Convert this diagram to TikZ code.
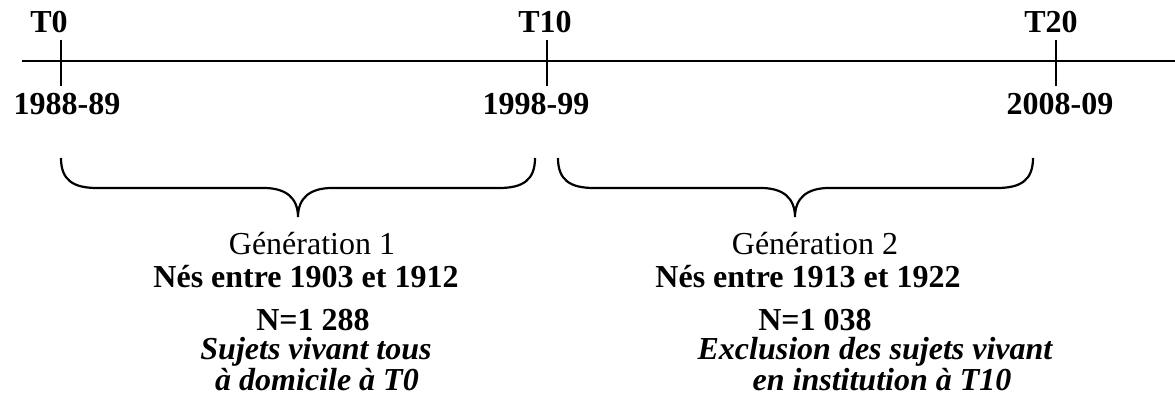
\documentclass[tikz,border=0pt]{standalone}
\usepackage{fontspec}
\setmainfont{Liberation Serif}
\newcommand{\bfont}{\fontsize{16}{19}\selectfont}
\begin{document}
\begin{tikzpicture}[x=0.5pt,y=-0.5pt,
  every node/.style={inner sep=0pt, outer sep=0pt, anchor=base},
  reg/.style={font=\bfont},
  lbl/.style={font=\bfont\bfseries},
  note/.style={font=\bfont\bfseries\itshape},
  axis/.style={line width=1.4pt},
  tick/.style={line width=1.1pt},
  brace/.style={line width=1.1pt}]
\useasboundingbox (0,0) rectangle (1175,401);

% axis
\coordinate (L) at (22,61);
\coordinate (R) at (1175,61);
\draw[axis] (L) -- (R);

% ticks
\coordinate (t0a) at (61,40);   \coordinate (t0b) at (61,86);
\coordinate (t1a) at (547,40);  \coordinate (t1b) at (547,86);
\coordinate (t2a) at (1056,40); \coordinate (t2b) at (1056,86);
\draw[tick] (t0a) -- (t0b);
\draw[tick] (t1a) -- (t1b);
\draw[tick] (t2a) -- (t2b);

% labels
\node[lbl] (T0)  at (49,33)   {T0};
\node[lbl] (T10) at (545,33)  {T10};
\node[lbl] (T20) at (1051,33) {T20};
\node[lbl] (Y0)  at (67,115)  {1988-89};
\node[lbl] (Y10) at (536,115) {1998-99};
\node[lbl] (Y20) at (1060,115) {2008-09};

% braces
\draw[brace] (61,158) .. controls (61,180) and (73,188) .. (97,188)
  -- (264,188) .. controls (286,188) and (298,198) .. (298,217)
  .. controls (298,198) and (310,188) .. (332,188)
  -- (499,188) .. controls (523,188) and (535,180) .. (535,158);
\draw[brace] (558,158) .. controls (558,180) and (570,188) .. (594,188)
  -- (761,188) .. controls (783,188) and (795,198) .. (795,217)
  .. controls (795,198) and (807,188) .. (829,188)
  -- (997,188) .. controls (1021,188) and (1033,180) .. (1033,158);

% generation 1
\node[reg]  (g1) at (312,255) {Génération 1};
\node[lbl]  (n1) at (306,288) {Nés entre 1903 et 1912};
\node[lbl]  (c1) at (313,330) {N=1 288};
\node[note] (s1) at (316,360) {Sujets vivant tous};
\node[note] (d1) at (317,391) {à domicile à T0};

% generation 2
\node[reg]  (g2) at (815,255) {Génération 2};
\node[lbl]  (n2) at (808,288) {Nés entre 1913 et 1922};
\node[lbl]  (c2) at (815,330) {N=1 038};
\node[note] (s2) at (875,360) {Exclusion des sujets vivant};
\node[note] (d2) at (882,391) {en institution à T10};
\end{tikzpicture}
\end{document}
